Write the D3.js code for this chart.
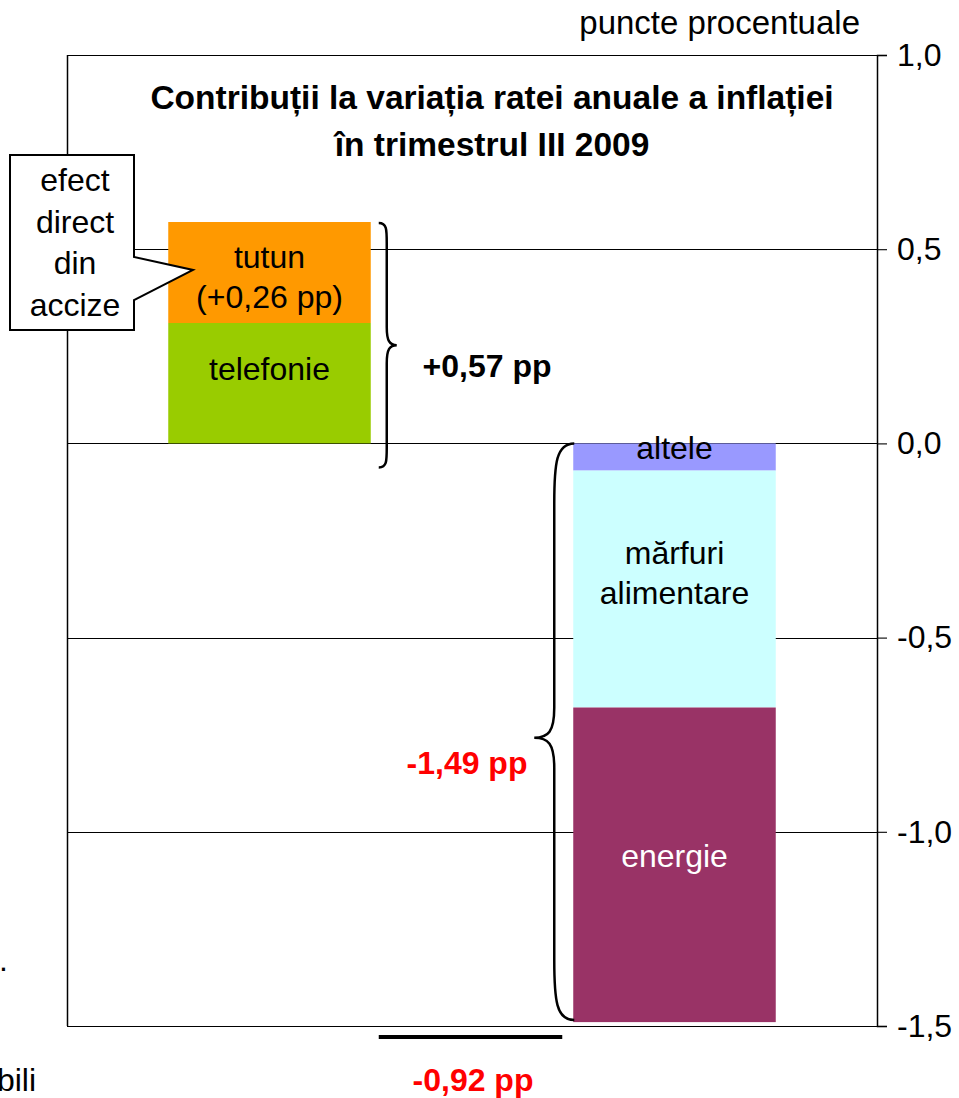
<!DOCTYPE html>
<html>
<head>
<meta charset="utf-8">
<script src="https://cdn.jsdelivr.net/npm/d3@7"></script>
<style>
  html, body { margin: 0; padding: 0; background: #fff; }
  svg { display: block; font-family: "Liberation Sans", Arial, sans-serif; }
</style>
</head>
<body>
<svg id="chart" width="959" height="1098"></svg>
<script>
// ---- data ----
const groups = ["pozitive", "negative"];
const positiveSeries = ["telefonie", "tutun"];
const positiveValues = [0.31, 0.26];
const positiveColors = ["#99CC00", "#FF9900"];
const positiveLabels = [["telefonie"], ["tutun", "(+0,26 pp)"]];

const negativeSeries = ["altele", "mărfuri alimentare", "energie"];
const negativeValues = [-0.07, -0.61, -0.81];
const negativeColors = ["#9999FF", "#CCFFFF", "#993366"];
const negativeLabels = [["altele"], ["mărfuri", "alimentare"], ["energie"]];

const totalPositive = "+0,57 pp";
const totalNegative = "-1,49 pp";
const netTotal = "-0,92 pp";
const tickValues = [1.0, 0.5, 0.0, -0.5, -1.0, -1.5];
const tickLabels = ["1,0", "0,5", "0,0", "-0,5", "-1,0", "-1,5"];
const titleLines = ["Contribuții la variația ratei anuale a inflației", "în trimestrul III 2009"];
const unitLabel = "puncte procentuale";
const calloutLines = ["efect", "direct", "din", "accize"];

(function () {
const FS = 32;
const svg = d3.select("#chart");
const pLeft = 67, pRight = 877, pTop = 55, pBottom = 1026;

const y = d3.scaleLinear().domain([-1.5, 1.0]).range([pBottom, pTop]);
const x = d3.scaleBand().domain(groups).range([pLeft, pRight]).paddingInner(0.5).paddingOuter(0.25);
const bw = x.bandwidth();

// gridlines
svg.append("g").selectAll("line").data(tickValues).join("line")
  .attr("x1", pLeft).attr("x2", pRight)
  .attr("y1", d => Math.round(y(d)) + 0.5).attr("y2", d => Math.round(y(d)) + 0.5)
  .attr("stroke", "#000").attr("stroke-width", 1.1);

// left border
svg.append("line").attr("x1", pLeft + 0.5).attr("x2", pLeft + 0.5)
  .attr("y1", y(1.0)).attr("y2", y(-1.5)).attr("stroke", "#000").attr("stroke-width", 1.5);

// right axis
const axis = d3.axisRight(y).tickValues(tickValues)
  .tickFormat((d, i) => tickLabels[i]).tickSize(10).tickPadding(10);
const ax = svg.append("g").attr("transform", `translate(${pRight},0)`).call(axis);
ax.select(".domain").attr("stroke-width", 1.5);
ax.selectAll(".tick line").attr("stroke-width", 1.1);
ax.selectAll(".tick text").attr("font-size", FS).attr("fill", "#000")
  .attr("font-family", "Liberation Sans, Arial, sans-serif");

// stacked bars
function stack(values) {
  let acc = 0;
  return values.map(v => { const s = acc; acc += v; return [Math.min(s, acc), Math.max(s, acc)]; });
}
const posStack = stack(positiveValues);
const negStack = stack(negativeValues);

svg.append("g").selectAll("rect").data(posStack).join("rect")
  .attr("x", x("pozitive")).attr("width", bw)
  .attr("y", d => y(d[1])).attr("height", d => y(d[0]) - y(d[1]))
  .attr("fill", (d, i) => positiveColors[i]);

svg.append("g").selectAll("rect").data(negStack).join("rect")
  .attr("x", x("negative")).attr("width", bw)
  .attr("y", d => y(d[1])).attr("height", d => y(d[0]) - y(d[1]))
  .attr("fill", (d, i) => negativeColors[i]);

// bar labels: first baseline given, following lines spaced by lh
function lines(g, arr, cx, firstBase, color, lh) {
  const t = g.append("text").attr("text-anchor", "middle").attr("font-size", FS).attr("fill", color);
  arr.forEach((l, i) => t.append("tspan").attr("x", cx).attr("y", firstBase + i * lh).text(l));
}
const lbl = svg.append("g");
const cxP = x("pozitive") + bw / 2, cxN = x("negative") + bw / 2;
lines(lbl, positiveLabels[0], cxP, y(posStack[0][1]) + 57, "#000", 40);
lines(lbl, positiveLabels[1], cxP, y(posStack[1][1]) + 46, "#000", 40);
lines(lbl, negativeLabels[0], cxN, y(negStack[0][1]) + 16, "#000", 40);
lines(lbl, negativeLabels[1], cxN, y(negStack[1][1]) + 93, "#000", 40);
lines(lbl, negativeLabels[2], cxN, (y(negStack[2][0]) + y(negStack[2][1])) / 2 + 2, "#fff", 40);

// braces
function braceRight(xb, y0, y1, w) {
  const ym = (y0 + y1) / 2;
  const c = 8;
  return `M${xb},${y0} C${xb + c},${y0} ${xb + c},${y0 + 6} ${xb + c},${y0 + 20}
          L${xb + c},${ym - 18} C${xb + c},${ym - 4} ${xb + c + 3},${ym} ${xb + w},${ym}
          C${xb + c + 3},${ym} ${xb + c},${ym + 4} ${xb + c},${ym + 18}
          L${xb + c},${y1 - 20} C${xb + c},${y1 - 6} ${xb + c},${y1} ${xb},${y1}`;
}
function braceLeft(xb, y0, y1, w, shift) {
  const ym = (y0 + y1) / 2 + shift;
  const c = 20;
  return `M${xb},${y0} C${xb - c + 2},${y0} ${xb - c},${y0 + 20} ${xb - c},${y0 + 60}
          L${xb - c},${ym - 30} C${xb - c},${ym - 6} ${xb - c - 6},${ym} ${xb - w},${ym}
          C${xb - c - 6},${ym} ${xb - c},${ym + 6} ${xb - c},${ym + 30}
          L${xb - c},${y1 - 60} C${xb - c},${y1 - 20} ${xb - c + 2},${y1} ${xb},${y1}`;
}
const posTop = y(d3.sum(positiveValues));
svg.append("path").attr("d", braceRight(x("pozitive") + bw + 8, posTop + 1, y(0) + 24, 18))
  .attr("fill", "none").attr("stroke", "#000").attr("stroke-width", 2.5);
const negBot = y(d3.sum(negativeValues));
svg.append("path").attr("d", braceLeft(x("negative") + 1, y(0), negBot - 2, 40, 6))
  .attr("fill", "none").attr("stroke", "#000").attr("stroke-width", 2.5);

// totals
svg.append("text").attr("x", 487).attr("y", 377).attr("text-anchor", "middle")
  .attr("font-size", FS).attr("font-weight", "bold").attr("fill", "#000").text(totalPositive);
svg.append("text").attr("x", 467).attr("y", 774).attr("text-anchor", "middle")
  .attr("font-size", FS).attr("font-weight", "bold").attr("fill", "#FF0000").text(totalNegative);

// net line and label
svg.append("line")
  .attr("x1", x("pozitive") + bw + 8).attr("x2", x("negative") - 11)
  .attr("y1", pBottom + 11).attr("y2", pBottom + 11)
  .attr("stroke", "#000").attr("stroke-width", 4);
svg.append("text").attr("x", 473).attr("y", 1091).attr("text-anchor", "middle")
  .attr("font-size", FS).attr("font-weight", "bold").attr("fill", "#FF0000").text(netTotal);

// title
const title = svg.append("text").attr("text-anchor", "middle").attr("font-size", 33.5)
  .attr("font-weight", "bold").attr("fill", "#000");
titleLines.forEach((l, i) => title.append("tspan").attr("x", 492).attr("y", 109 + i * 47).text(l));

// unit label
svg.append("text").attr("x", 860).attr("y", 34).attr("text-anchor", "end")
  .attr("font-size", 33).attr("fill", "#000").text(unitLabel);

// callout
const tipX = 193, tipY = 270;
const bx0 = 10, bx1 = 134, by0 = 155, by1 = 330;
svg.append("path")
  .attr("d", `M${bx0},${by0} L${bx1},${by0} L${bx1},257 L${tipX},${tipY} L${bx1},300 L${bx1},${by1} L${bx0},${by1} Z`)
  .attr("fill", "#fff").attr("stroke", "#000").attr("stroke-width", 2);
const ct = svg.append("text").attr("text-anchor", "middle").attr("font-size", FS).attr("fill", "#000");
calloutLines.forEach((l, i) => ct.append("tspan").attr("x", 75).attr("y", 191 + i * 41.5).text(l));

// cropped text fragments at left edge (text continues beyond the picture)
svg.append("text").attr("x", 8).attr("y", 971).attr("text-anchor", "end")
  .attr("font-size", FS).attr("fill", "#000").text("m.");
svg.append("text").attr("x", 36).attr("y", 1091).attr("text-anchor", "end")
  .attr("font-size", FS).attr("fill", "#000").text("stabili");
})();
</script>
</body>
</html>
